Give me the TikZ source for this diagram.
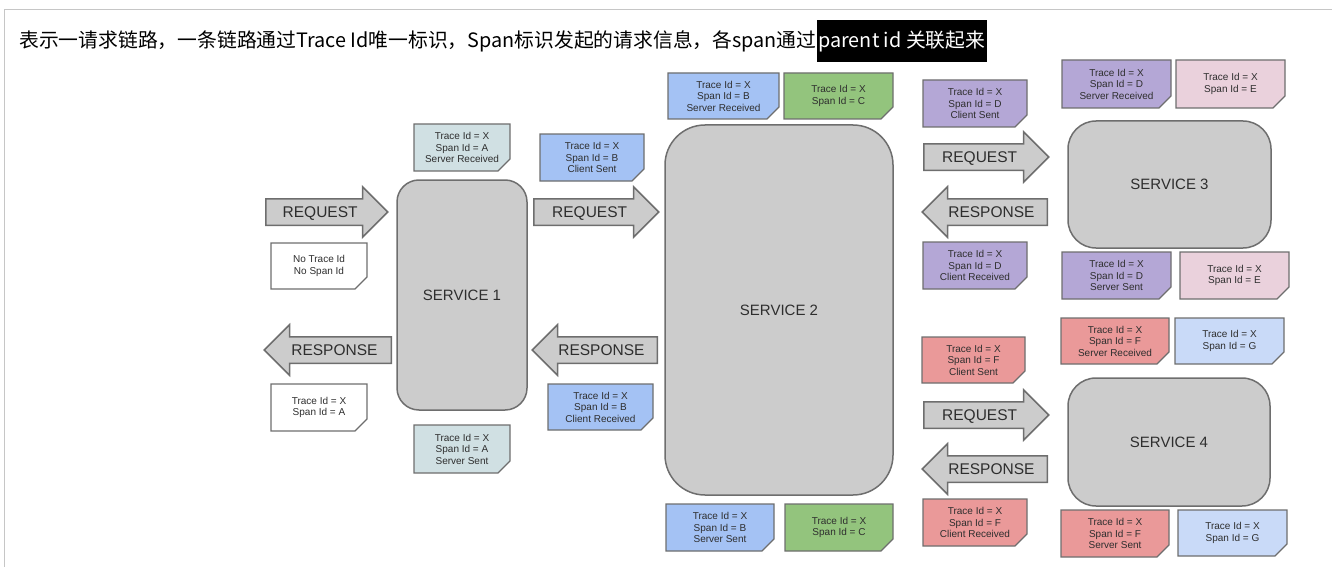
\documentclass[tikz,border=0pt]{standalone}
\usepackage{fontspec}
\setmainfont{Liberation Sans}
\newfontfamily\cjk{Noto Sans CJK SC}
\usetikzlibrary{shapes.arrows,shapes.misc}
\definecolor{boxgray}{HTML}{CCCCCC}
\definecolor{edgegray}{HTML}{6E6E6E}
\definecolor{inkgray}{HTML}{2E2E2E}
\definecolor{spanA}{HTML}{D0E0E3}
\definecolor{spanB}{HTML}{A4C2F4}
\definecolor{spanC}{HTML}{93C47D}
\definecolor{spanD}{HTML}{B4A7D6}
\definecolor{spanE}{HTML}{EAD1DC}
\definecolor{spanF}{HTML}{EA9999}
\definecolor{spanG}{HTML}{C9DAF8}
\begin{document}
\begin{tikzpicture}[x=1pt, y=-1pt,
    svc/.style={draw=edgegray, line width=1.5pt, fill=boxgray, rounded corners=#1, text=inkgray, font=\fontsize{15}{18}\selectfont},
    note/.style={chamfered rectangle, chamfered rectangle corners=south east, chamfered rectangle xsep=6pt, chamfered rectangle ysep=6pt,
      draw=edgegray, line width=1.3pt, fill=#1, inner sep=0pt, align=center, text=inkgray, font=\fontsize{10}{11.5}\selectfont,
      path picture={\fill[edgegray!70] ([xshift=-6pt]path picture bounding box.south east) -- ++(6pt,6pt) -- ++(-6pt,0pt) -- cycle;}},
    arr/.style={single arrow, draw=edgegray, line width=1.5pt, fill=boxgray, single arrow head extend=12pt, single arrow tip angle=90,
      inner xsep=6pt, inner ysep=0pt, text height=18pt, text depth=7pt, anchor=tail, text=inkgray, font=\fontsize{15.5}{18}\selectfont},
    req/.style={arr, minimum height=#1},
    resp/.style={arr, minimum height=#1, shape border rotate=180}]
  \useasboundingbox (0,0) rectangle (1332,567);
  \draw[gray!45, line width=1pt] (4,567) -- (4,10) -- (1332,10);

  \node[anchor=west, inner sep=0pt, font=\cjk\fontsize{19.8}{22}\selectfont] (T1) at (19,41) {表示一请求链路，一条链路通过Trace Id唯一标识，Span标识发起的请求信息，各span通过};
  \node[anchor=west, fill=black, text=white, minimum height=42pt, inner xsep=1.5pt, font=\cjk\fontsize{19.8}{22}\selectfont] (T2) at (T1.east) {parent id 关联起来};

  \node[svc=22pt, minimum width=130pt, minimum height=230pt] (S1) at (462,295) {SERVICE 1};
  \node[svc=40pt, minimum width=228pt, minimum height=370pt] (S2) at (779,310) {SERVICE 2};
  \node[svc=28pt, minimum width=203pt, minimum height=127pt] (S3) at (1169.5,184.5) {SERVICE 3};
  \node[svc=28pt, minimum width=202pt, minimum height=128pt] (S4) at (1169,442) {SERVICE 4};

  \node[req=122pt] (A1) at (265,212) {REQUEST};
  \node[req=125pt] (A2) at (533,212) {REQUEST};
  \node[resp=127pt] (A3) at (392,350) {RESPONSE};
  \node[resp=125pt] (A4) at (658,350) {RESPONSE};
  \node[req=125pt] (A5) at (923,157) {REQUEST};
  \node[resp=125pt] (A6) at (1048,212) {RESPONSE};
  \node[req=125pt] (A7) at (923,415) {REQUEST};
  \node[resp=125pt] (A8) at (1048,469) {RESPONSE};

  \node[note=spanA, minimum width=96pt, minimum height=47pt] (N1) at (462,147.5) {Trace Id = X\\Span Id = A\\Server Received};
  \node[note=white, minimum width=96pt, minimum height=46pt] (N2) at (319,266) {No Trace Id\\No Span Id};
  \node[note=white, minimum width=96pt, minimum height=47pt] (N3) at (319,407.5) {Trace Id = X\\Span Id = A};
  \node[note=spanA, minimum width=96pt, minimum height=48pt] (N4) at (462,449) {Trace Id = X\\Span Id = A\\Server Sent};
  \node[note=spanB, minimum width=104pt, minimum height=47pt] (N5) at (592,157.5) {Trace Id = X\\Span Id = B\\Client Sent};
  \node[note=spanB, minimum width=105pt, minimum height=46pt] (N6) at (600.5,407) {Trace Id = X\\Span Id = B\\Client Received};
  \node[note=spanB, minimum width=111pt, minimum height=46pt] (N7) at (723.5,96) {Trace Id = X\\Span Id = B\\Server Received};
  \node[note=spanC, minimum width=109pt, minimum height=46pt] (N8) at (838.5,96) {Trace Id = X\\Span Id = C};
  \node[note=spanB, minimum width=108pt, minimum height=47pt] (N9) at (720,527.5) {Trace Id = X\\Span Id = B\\Server Sent};
  \node[note=spanC, minimum width=108pt, minimum height=47pt] (N10) at (839,527.5) {Trace Id = X\\Span Id = C};
  \node[note=spanD, minimum width=104pt, minimum height=47pt] (N11) at (975,103.5) {Trace Id = X\\Span Id = D\\Client Sent};
  \node[note=spanD, minimum width=104pt, minimum height=47pt] (N12) at (975,265.5) {Trace Id = X\\Span Id = D\\Client Received};
  \node[note=spanD, minimum width=109pt, minimum height=48pt] (N13) at (1116.5,84) {Trace Id = X\\Span Id = D\\Server Received};
  \node[note=spanE, minimum width=109pt, minimum height=48pt] (N14) at (1230.5,84) {Trace Id = X\\Span Id = E};
  \node[note=spanD, minimum width=109pt, minimum height=47pt] (N15) at (1116.5,275.5) {Trace Id = X\\Span Id = D\\Server Sent};
  \node[note=spanE, minimum width=109pt, minimum height=47pt] (N16) at (1234.5,275.5) {Trace Id = X\\Span Id = E};
  \node[note=spanF, minimum width=103pt, minimum height=46pt] (N17) at (973.5,360) {Trace Id = X\\Span Id = F\\Client Sent};
  \node[note=spanF, minimum width=104pt, minimum height=47pt] (N18) at (975,522.5) {Trace Id = X\\Span Id = F\\Client Received};
  \node[note=spanF, minimum width=108pt, minimum height=46pt] (N19) at (1115,341) {Trace Id = X\\Span Id = F\\Server Received};
  \node[note=spanG, minimum width=109pt, minimum height=46pt] (N20) at (1229.5,341) {Trace Id = X\\Span Id = G};
  \node[note=spanF, minimum width=108pt, minimum height=47pt] (N21) at (1115,533.5) {Trace Id = X\\Span Id = F\\Server Sent};
  \node[note=spanG, minimum width=109pt, minimum height=46pt] (N22) at (1232.5,533) {Trace Id = X\\Span Id = G};
\end{tikzpicture}
\end{document}
